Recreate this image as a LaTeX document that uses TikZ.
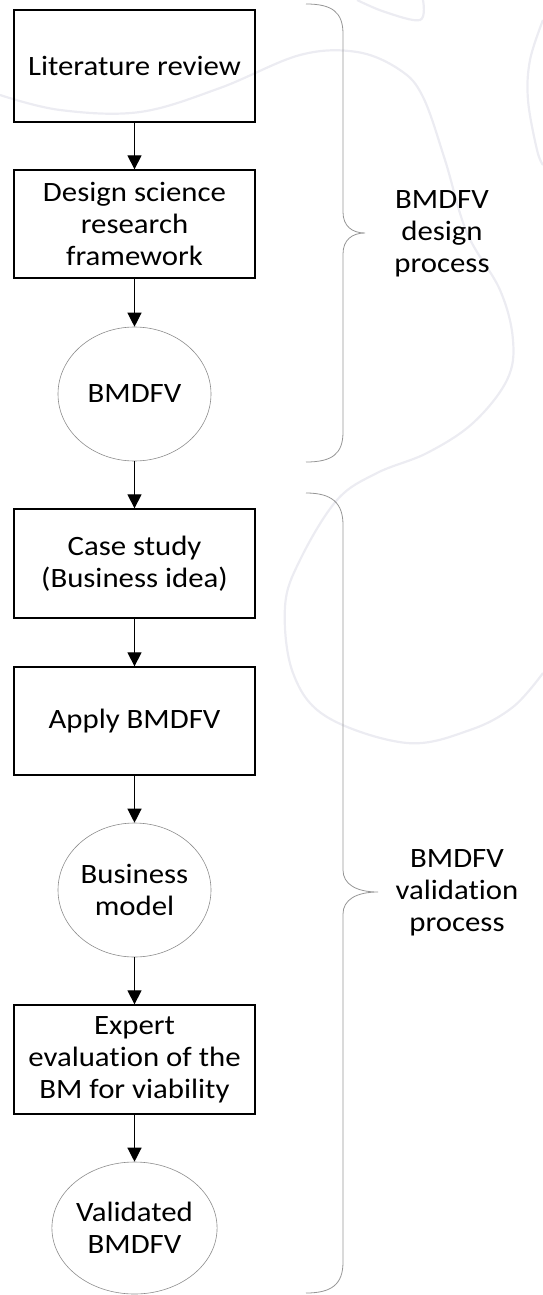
\documentclass[tikz,border=0pt]{standalone}
\usepackage{fontspec}
\setmainfont[FakeStretch=1.1,Ligatures=NoCommon]{Carlito}
\usetikzlibrary{arrows.meta,shapes.geometric}
\definecolor{wm}{RGB}{236,236,242}
\definecolor{brc}{RGB}{150,150,150}
\definecolor{ell}{RGB}{140,140,140}
\tikzset{
  every node/.style={font=\fontsize{28}{32}\selectfont, align=center, inner sep=0pt},
  stepbox/.style={draw=black, line width=1.3pt, rectangle, minimum width=241pt},
  oval/.style={draw=ell, line width=0.6pt, ellipse, minimum width=153pt},
  arr/.style={draw=black, line width=1.2pt, -{Triangle[width=14pt,length=14pt]}},
  bracestyle/.style={draw=brc, line width=0.8pt},
  watermark/.style={draw=wm, line width=2.2pt}
}
\begin{document}
\begin{tikzpicture}[x=1pt,y=-1pt]
\useasboundingbox (0,0) rectangle (543,1295);
% faint watermark
\draw[watermark] plot[smooth, tension=0.6] coordinates {(0,95) (60,110) (140,112) (220,88) (300,55) (357,52) (400,70) (423,97) (445,160) (467,233) (500,290) (513,340) (507,380) (473,423) (427,453) (377,473) (337,500) (300,560) (285,607) (293,673) (327,717) (407,743) (470,730) (513,707) (543,673)};
\draw[watermark] plot[smooth, tension=0.6] coordinates {(357,0) (385,12) (420,20) (423,0)};
\draw[watermark] plot[smooth, tension=0.6] coordinates {(543,20) (530,60) (528,100) (537,150) (543,165)};
% nodes
\node[stepbox, minimum height=112pt] (lit) at (134.5,66) {Literature review};
\node[stepbox, minimum height=108pt] (dsr) at (134.5,224) {Design science\\research\\framework};
\node[oval, minimum height=134pt] (bm1) at (134.5,394) {BMDFV};
\node[stepbox, minimum height=109pt] (cs) at (134.5,563.5) {Case study\\(Business idea)};
\node[stepbox, minimum height=108pt] (ap) at (134.5,721) {Apply BMDFV};
\node[oval, minimum height=134pt] (bm2) at (134.5,890) {Business\\model};
\node[stepbox, minimum height=109pt] (ex) at (134.5,1059.5) {Expert\\evaluation of the\\BM for viability};
\node[oval, minimum height=132pt] (vb) at (134.5,1228) {Validated\\BMDFV};
\node (l1) at (442,234) {BMDFV\\design\\process};
\node (l2) at (457,893) {BMDFV\\validation\\process};
% arrows
\draw[arr] (lit) -- (dsr);
\draw[arr] (dsr) -- (bm1);
\draw[arr] (bm1) -- (cs);
\draw[arr] (cs) -- (ap);
\draw[arr] (ap) -- (bm2);
\draw[arr] (bm2) -- (ex);
\draw[arr] (ex) -- (vb);
% braces
\draw[bracestyle] (306,4) .. controls (332,4) and (343,12) .. (343,34)
  -- (343,212) .. controls (343,226) and (352,233) .. (365,233)
  .. controls (352,233) and (343,240) .. (343,254)
  -- (343,432) .. controls (343,454) and (332,462) .. (306,462);
\draw[bracestyle] (306,493) .. controls (332,493) and (343,503) .. (343,525)
  -- (343,870) .. controls (343,884) and (356,892) .. (378,892)
  .. controls (356,892) and (343,900) .. (343,914)
  -- (343,1262) .. controls (343,1284) and (332,1293) .. (306,1293);
\end{tikzpicture}
\end{document}
